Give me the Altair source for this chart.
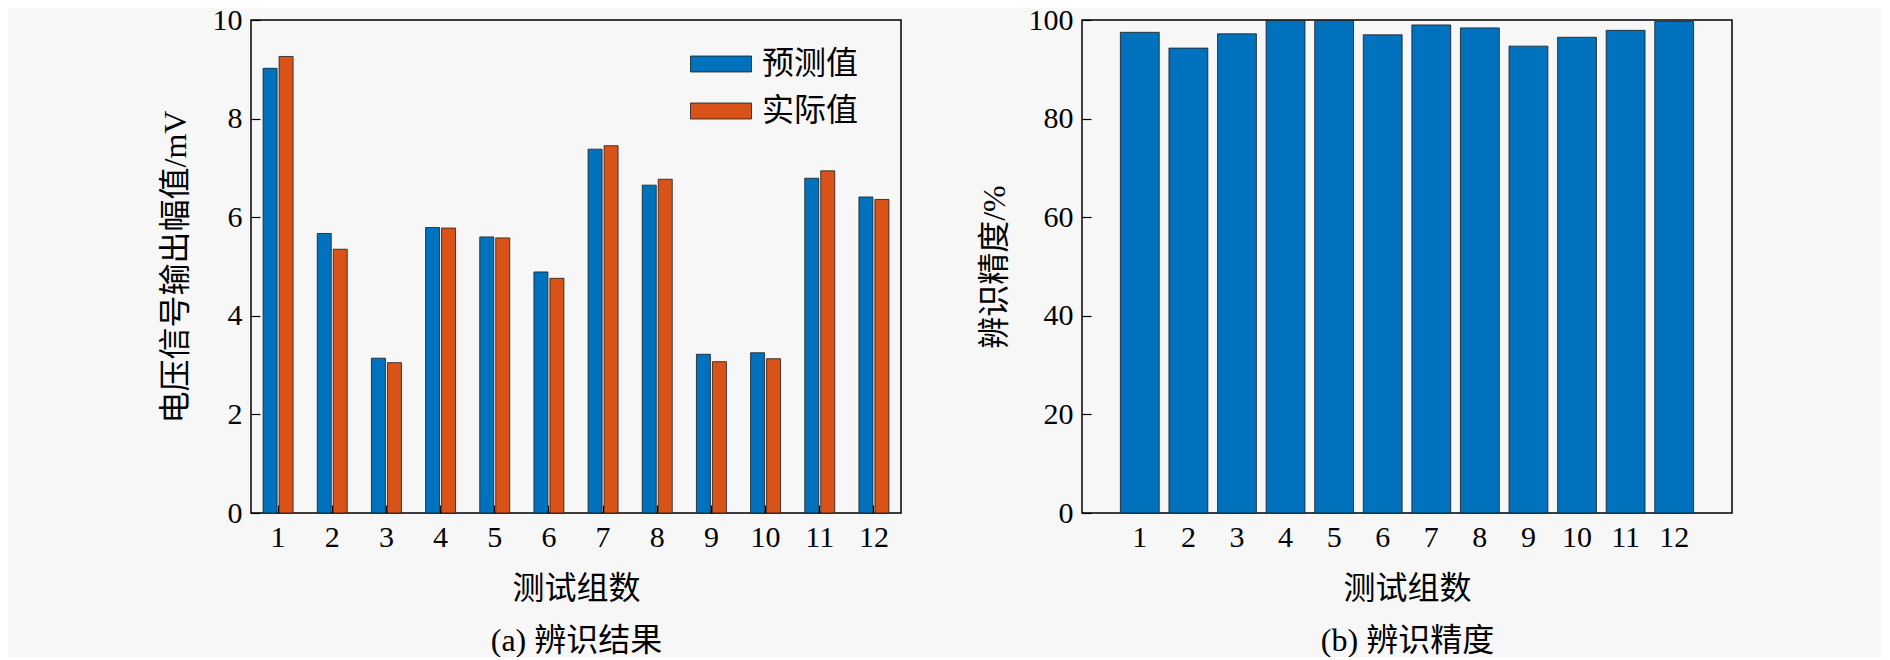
import altair as alt
import pandas as pd

# ---- data ----
groups = [str(i) for i in range(1, 13)]
series_names = ["预测值", "实际值"]
predicted = [9.02, 5.67, 3.14, 5.79, 5.60, 4.89, 7.38, 6.65, 3.22, 3.25, 6.79, 6.41]
actual = [9.26, 5.35, 3.05, 5.78, 5.58, 4.76, 7.45, 6.77, 3.07, 3.13, 6.94, 6.36]
accuracy = [97.5, 94.3, 97.2, 99.9, 99.9, 97.0, 99.0, 98.4, 94.7, 96.5, 97.9, 99.7]
left_yticks = [0, 2, 4, 6, 8, 10]
right_yticks = [0, 20, 40, 60, 80, 100]

colors = ["#0072BD", "#D95319"]

df_left = pd.DataFrame({
    "group": groups * 2,
    "series": [series_names[0]] * len(groups) + [series_names[1]] * len(groups),
    "value": predicted + actual,
})
df_right = pd.DataFrame({"group": groups, "accuracy": accuracy})

LAT = "Liberation Serif"
CJK = "Liberation Serif, Noto Sans CJK SC"
H = 493

left = alt.Chart(df_left).mark_bar(stroke="#1a1a1a", strokeWidth=0.8).encode(
    x=alt.X(
        "group:O", sort=groups,
        scale=alt.Scale(paddingInner=0, paddingOuter=0),
        axis=alt.Axis(
            title=["测试组数", "(a) 辨识结果"], labelAngle=0, offset=-8, tickSize=8,
            labelPadding=9, titleY=83, titleBaseline="middle", titleLineHeight=52,
        ),
    ),
    xOffset=alt.XOffset(
        "series:N", sort=series_names,
        scale=alt.Scale(paddingInner=0.125, paddingOuter=0.756),
    ),
    y=alt.Y(
        "value:Q", scale=alt.Scale(domain=[0, 10], nice=False),
        axis=alt.Axis(
            title="电压信号输出幅值/mV", values=left_yticks, offset=-9, tickSize=9,
            labelPadding=9, titleX=-84.5, titleY=H / 2, titleBaseline="middle",
            titleAlign="center",
        ),
    ),
    color=alt.Color(
        "series:N", sort=series_names,
        scale=alt.Scale(domain=series_names, range=colors),
        legend=alt.Legend(title=None, orient="none", legendX=439, legendY=13),
    ),
).properties(width=650, height=H)

right = alt.Chart(df_right).mark_bar(color=colors[0], stroke="#1a1a1a", strokeWidth=0.8).encode(
    x=alt.X(
        "group:O", sort=groups,
        scale=alt.Scale(paddingInner=0.2, paddingOuter=0.79),
        axis=alt.Axis(
            title=["测试组数", "(b) 辨识精度"], labelAngle=0, offset=-8, tickSize=8,
            labelPadding=9, titleY=83, titleBaseline="middle", titleLineHeight=52,
        ),
    ),
    y=alt.Y(
        "accuracy:Q", scale=alt.Scale(domain=[0, 100], nice=False),
        axis=alt.Axis(
            title="辨识精度/%", values=right_yticks, offset=-9, tickSize=9,
            labelPadding=9, titleX=-97, titleY=H / 2, titleBaseline="middle",
            titleAlign="center",
        ),
    ),
).properties(width=650, height=H)

chart = alt.hconcat(left, right, spacing=75).properties(
    padding={"left": 150, "top": -4, "right": 148, "bottom": 0}
).configure(
    background="#f7f7f7",
).configure_view(
    stroke="black", strokeWidth=1.5, fill="#f7f7f7",
).configure_axis(
    domain=False, grid=False,
    labelFont=LAT, labelFontSize=30, labelColor="black",
    titleFont=CJK, titleFontSize=32, titleFontWeight="normal", titleColor="black",
    tickColor="black", tickWidth=1.2,
).configure_legend(
    labelFont=CJK, labelFontSize=32, labelColor="black", labelOffset=10,
    symbolType="M-1,-0.262H1V0.262H-1Z", symbolSize=3721,
    symbolStrokeColor="#1a1a1a", symbolStrokeWidth=0.8, symbolOpacity=1,
    rowPadding=-3.5, padding=0,
)

chart.save("out.html", embed_options={"renderer": "svg", "actions": False})
